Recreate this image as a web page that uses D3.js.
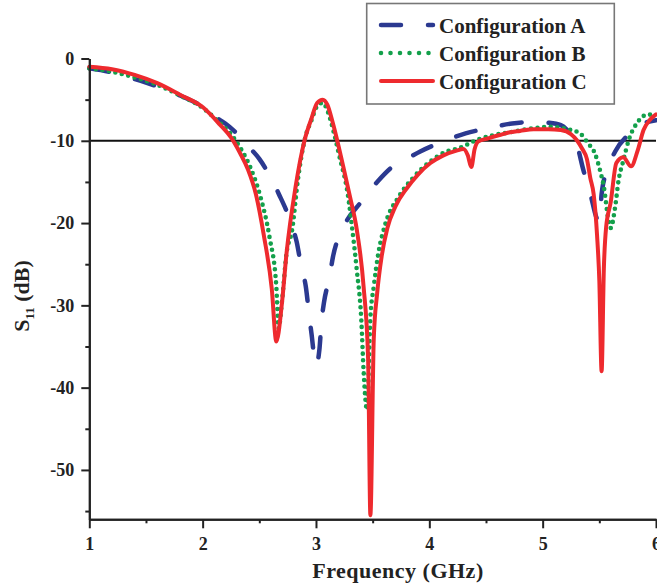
<!DOCTYPE html>
<html>
<head>
<meta charset="utf-8">
<script src="https://cdn.jsdelivr.net/npm/d3@7"></script>
<style>
  html, body { margin: 0; padding: 0; background: #fff; }
  svg { display: block; font-family: 'Liberation Serif', 'Times New Roman', serif; font-weight: bold; }
</style>
</head>
<body>
<div class="chart"></div>
<script>
'use strict'

// S11 curves (frequency in GHz, S11 in dB)
const freqA = [1.0, 1.2, 1.4, 1.6, 1.8, 2.0, 2.1, 2.2, 2.27, 2.39, 2.5, 2.59, 2.67, 2.79, 2.83, 2.87, 2.91, 2.94, 2.96, 3.0, 3.03, 3.05, 3.07, 3.12, 3.15, 3.24, 3.4, 3.54, 3.68, 3.8, 3.92, 4.1, 4.32, 4.51, 4.73, 4.92, 5.05, 5.16, 5.24, 5.3, 5.36, 5.42, 5.48, 5.5, 5.52, 5.57, 5.64, 5.77, 5.86, 6.0]
const dbA   = [-1.2, -1.7, -2.5, -3.4, -4.5, -5.9, -7.0, -7.9, -8.7, -10.5, -12.2, -14.2, -16.4, -20.4, -22.3, -25.3, -27.7, -31.2, -33.4, -37.3, -35.4, -31.8, -29.7, -26.5, -24.1, -20.6, -17.4, -15.0, -13.1, -12.2, -11.3, -10.2, -9.1, -8.5, -7.9, -7.7, -7.8, -8.1, -9.1, -10.4, -13.6, -16.4, -19.5, -19.8, -16.5, -13.5, -11.3, -9.1, -8.1, -7.5]

const freqB = [1.0, 1.2, 1.4, 1.6, 1.8, 2.0, 2.15, 2.25, 2.33, 2.42, 2.51, 2.59, 2.65, 2.67, 2.7, 2.74, 2.79, 2.84, 2.9, 2.96, 3.01, 3.06, 3.1, 3.15, 3.2, 3.29, 3.31, 3.36, 3.4, 3.42, 3.45, 3.48, 3.51, 3.55, 3.61, 3.73, 3.85, 4.01, 4.15, 4.26, 4.42, 4.57, 4.7, 4.86, 5.07, 5.25, 5.33, 5.4, 5.46, 5.51, 5.54, 5.58, 5.6, 5.64, 5.67, 5.71, 5.76, 5.84, 5.93, 6.0]
const dbB   = [-1.2, -1.6, -2.3, -3.2, -4.5, -6.0, -7.8, -9.2, -10.8, -13.2, -16.8, -21.7, -27.7, -32.8, -29.5, -23.7, -20.8, -14.8, -9.9, -7.5, -5.8, -5.4, -6.3, -8.6, -11.5, -17.4, -19.6, -25.7, -31.8, -37.9, -42.7, -31.5, -27.7, -23.7, -20.2, -16.8, -14.6, -12.5, -11.3, -10.9, -9.9, -9.3, -9.0, -8.6, -8.3, -8.7, -9.1, -10.3, -11.5, -13.8, -15.6, -19.6, -20.6, -18.0, -14.8, -12.5, -9.9, -7.7, -6.8, -7.0]

const freqC = [1.0, 1.2, 1.4, 1.6, 1.8, 2.0, 2.15, 2.25, 2.33, 2.4, 2.47, 2.54, 2.61, 2.65, 2.7, 2.74, 2.82, 2.9, 2.96, 3.01, 3.06, 3.1, 3.15, 3.24, 3.3, 3.36, 3.42, 3.46, 3.48, 3.51, 3.54, 3.58, 3.63, 3.7, 3.8, 3.9, 4.01, 4.12, 4.24, 4.3, 4.34, 4.37, 4.4, 4.43, 4.52, 4.62, 4.7, 4.8, 4.92, 5.05, 5.16, 5.25, 5.3, 5.35, 5.39, 5.42, 5.45, 5.48, 5.5, 5.52, 5.54, 5.56, 5.6, 5.65, 5.71, 5.78, 5.84, 5.89, 5.95, 6.0]
const dbC   = [-1.0, -1.3, -2.0, -3.0, -4.4, -5.9, -8.0, -9.6, -11.5, -13.5, -16.5, -21.5, -28.0, -34.4, -29.7, -23.7, -15.6, -9.9, -7.3, -5.4, -5.0, -5.6, -7.9, -13.1, -16.8, -20.8, -27.7, -36.5, -55.5, -34.0, -28.5, -24.0, -20.6, -18.0, -15.8, -14.1, -12.7, -11.8, -11.2, -11.0, -11.8, -13.2, -11.0, -10.1, -9.7, -9.3, -9.0, -8.8, -8.6, -8.6, -8.7, -9.2, -9.9, -11.0, -12.2, -14.5, -16.5, -21.5, -27.0, -38.0, -25.5, -20.5, -17.5, -12.7, -12.0, -13.1, -11.1, -8.7, -7.4, -6.8]

const seriesNames = ['Configuration A', 'Configuration B', 'Configuration C']
const xTicks = [1, 2, 3, 4, 5, 6]
const xMinor = [1.5, 2.5, 3.5, 4.5, 5.5]
const yTicks = [0, -10, -20, -30, -40, -50]
const yMinor = [-5, -15, -25, -35, -45, -55]
const refLevel = -10

const width = 657
const height = 588

const series = [
    { name: seriesNames[0], freq: freqA, db: dbA, color: '#2b3990', dash: '20,27', widthPx: 4.5 }
  , { name: seriesNames[1], freq: freqB, db: dbB, color: '#13a04b', dash: '0,6.6', widthPx: 4.6 }
  , { name: seriesNames[2], freq: freqC, db: dbC, color: '#ee2a2e', dash: null, widthPx: 4 }
]

const x = d3.scaleLinear().domain([1, 6]).range([89.3, 656])
const y = d3.scaleLinear().domain([-56, 0]).range([519.3, 58.5])

const svg = d3.select('.chart').append('svg')
    .attr('width', width)
    .attr('height', height)

// -10 dB reference line
svg.append('line')
    .attr('x1', x(1)).attr('x2', x(6))
    .attr('y1', y(refLevel)).attr('y2', y(refLevel))
    .style('stroke', '#111')
    .style('stroke-width', 2)

const line = d3.line()
    .x(d => x(d[0]))
    .y(d => y(d[1]))
    .curve(d3.curveMonotoneX)

series.forEach(s => {
  const pts = s.freq.map((f, i) => [f, s.db[i]])
  svg.append('path')
      .datum(pts)
      .attr('d', line)
      .style('fill', 'none')
      .style('stroke', s.color)
      .style('stroke-width', s.widthPx)
      .style('stroke-linecap', 'round')
      .style('stroke-linejoin', 'round')
      .style('stroke-dasharray', s.dash)
})

// axes
function styleAxis(g) {
  g.selectAll('.domain').style('stroke', '#222').style('stroke-width', 2)
  g.selectAll('.tick line').style('stroke', '#222').style('stroke-width', 2)
  g.selectAll('.tick text')
      .style('font-size', '18px')
      .style('font-family', "'Liberation Serif', 'Times New Roman', serif")
      .style('font-weight', 'bold')
      .style('fill', '#222')
}

svg.append('g')
    .attr('transform', `translate(0,${y(-56)})`)
    .call(d3.axisBottom(x).tickValues(xMinor).tickSize(4).tickSizeOuter(0).tickFormat(''))
    .call(styleAxis)
svg.append('g')
    .attr('transform', `translate(0,${y(-56)})`)
    .call(d3.axisBottom(x).tickValues(xTicks).tickSize(9).tickPadding(9).tickSizeOuter(0).tickFormat(d => String(d)))
    .call(styleAxis)

svg.append('g')
    .attr('transform', `translate(${x(1)},0)`)
    .call(d3.axisLeft(y).tickValues(yMinor).tickSize(4).tickSizeOuter(0).tickFormat(''))
    .call(styleAxis)
svg.append('g')
    .attr('transform', `translate(${x(1)},0)`)
    .call(d3.axisLeft(y).tickValues(yTicks).tickSize(8).tickPadding(7).tickSizeOuter(0).tickFormat(d => String(d)))
    .call(styleAxis)

// axis titles
svg.append('text')
    .attr('x', 398)
    .attr('y', 578)
    .attr('text-anchor', 'middle')
    .style('font-size', '22px')
    .style('letter-spacing', '0.5px')
    .style('fill', '#222')
    .text('Frequency (GHz)')

const yTitle = svg.append('text')
    .attr('transform', 'translate(29,296) rotate(-90)')
    .attr('text-anchor', 'middle')
    .style('font-size', '22px')
    .style('fill', '#222')
yTitle.append('tspan').text('S')
yTitle.append('tspan').attr('dy', 5).style('font-size', '13px').text('11')
yTitle.append('tspan').attr('dy', -5).text(' (dB)')

// legend
const legend = svg.append('g')
legend.append('rect')
    .attr('x', 366.7).attr('y', 3.5)
    .attr('width', 247.6).attr('height', 100.5)
    .style('fill', '#fff')
    .style('stroke', '#777')
    .style('stroke-width', 1.6)

const rowY = d3.scalePoint().domain(seriesNames).range([25, 81])

series.forEach(s => {
  const g = legend.append('g').attr('transform', `translate(0,${rowY(s.name)})`)
  g.append('line')
      .attr('x1', 381).attr('x2', 433)
      .style('stroke', s.color)
      .style('stroke-width', s.widthPx)
      .style('stroke-linecap', 'round')
      .style('stroke-dasharray', s.name === seriesNames[1] ? '0,9.5' : s.dash)
  g.append('text')
      .attr('x', 439)
      .attr('y', 7.5)
      .style('font-size', '21px')
      .style('fill', '#222')
      .text(s.name)
})
</script>
</body>
</html>
